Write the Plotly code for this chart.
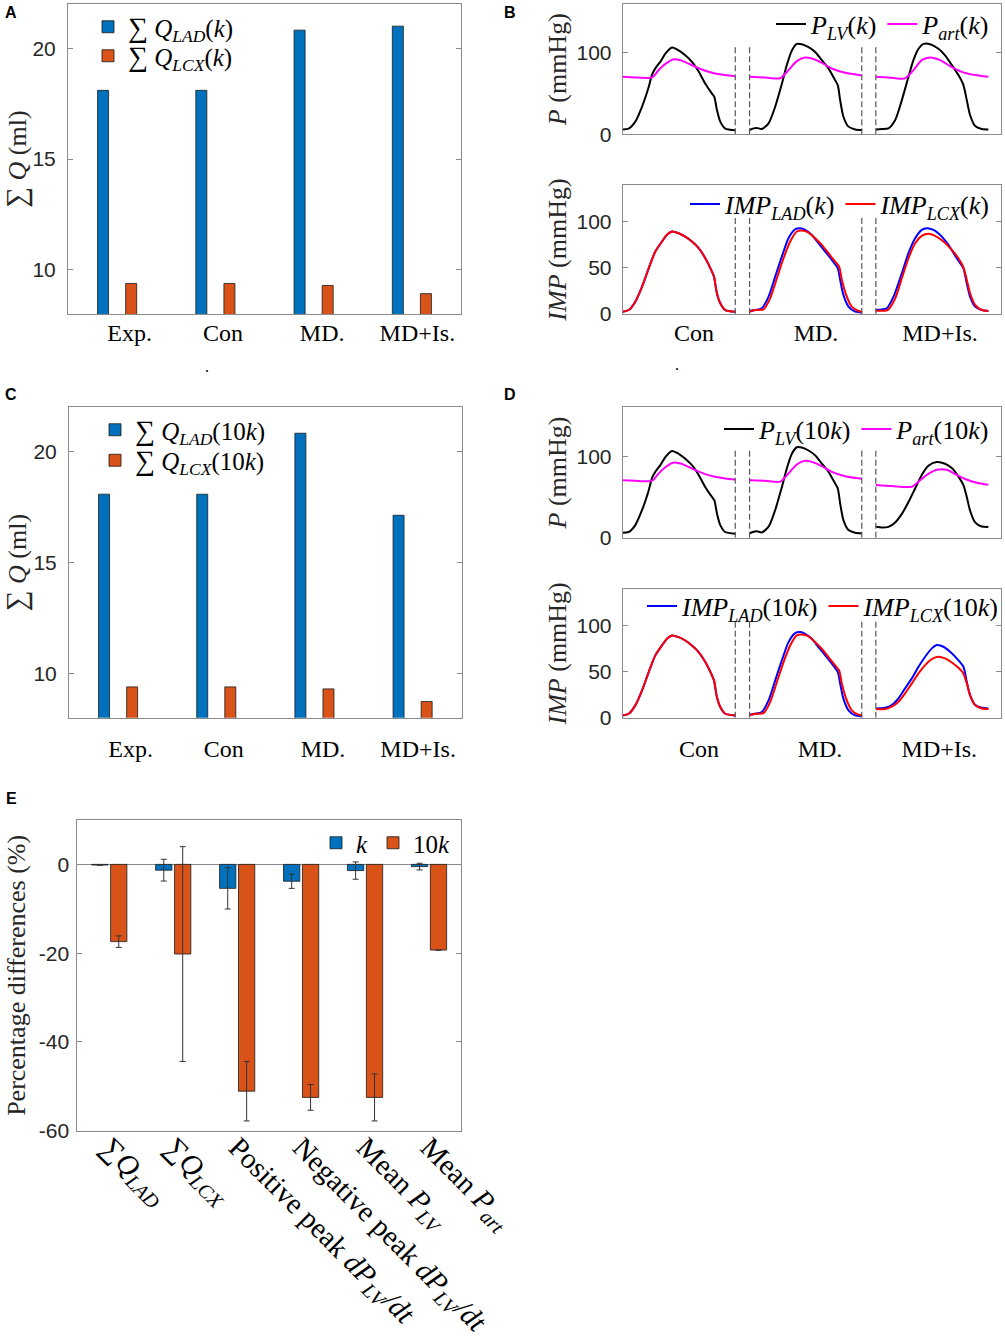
import plotly.graph_objects as go

W, H = 1005, 1339

# ---------------- DATA ----------------
groups = ["Exp.", "Con", "MD.", "MD+Is."]
group_pos = [1, 2, 3, 4]

# Panel A (k)
qlad_k = [18.1, 18.1, 20.82, 21.0]
qlcx_k = [9.38, 9.38, 9.29, 8.92]
# Panel C (10k)
qlad_10k = [18.08, 18.08, 20.83, 17.13]
qlcx_10k = [9.39, 9.39, 9.30, 8.73]

beats = ["Con", "MD.", "MD+Is."]

# Panel B / D pressure waveforms (t = fraction of beat, value in mmHg)
t_plv_con = [0, .053, .112, .172, .231, .260, .290, .334, .379, .438, .497, .556, .615, .675, .734, .793, .814, .837, .867, .911, 1.0]
plv_con = [6, 7, 15.5, 34, 58, 73, 81, 89, 99, 106.5, 103, 97, 89, 77, 62, 50, 46, 30, 15.5, 7, 5]
t_part_con = [0, .112, .231, .266, .320, .379, .453, .512, .571, .645, .734, .822, .911, 1.0]
part_con = [70.6, 69.8, 69.2, 70.2, 79, 86.5, 92.2, 91, 87.8, 82.9, 78, 74.7, 72.7, 71.4]

t_plv_md = [0, .036, .065, .109, .169, .228, .287, .331, .376, .420, .464, .524, .583, .642, .701, .760, .784, .805, .834, .879, .938, 1.0]
plv_md = [5.3, 7.3, 7.8, 6.5, 13.5, 34, 62, 85, 103, 111, 110.6, 107, 101, 91, 81, 66.5, 60.4, 42, 21.6, 9.4, 6, 5.3]
t_part_md = [0, .139, .272, .346, .420, .494, .553, .642, .731, .849, 1.0]
part_md = [70.6, 69.8, 68.8, 78.8, 89.8, 94.3, 93, 87.8, 80.8, 75.5, 72.2]

t_plv_mdis_k = [0, .053, .112, .172, .231, .290, .334, .379, .423, .482, .556, .615, .675, .734, .778, .808, .837, .882, .941, 1.0]
plv_mdis_k = [6, 6.5, 7.3, 17.6, 42, 70.6, 91, 105, 111, 110.6, 105, 97, 85, 72.7, 60.4, 42, 23.7, 10.2, 6.5, 6]
t_part_mdis_k = [0, .142, .260, .334, .408, .482, .571, .660, .763, .882, 1.0]
part_mdis_k = [70.6, 69.4, 68.6, 78.8, 91, 94.3, 91, 83.7, 76.7, 72.7, 70.6]

t_plv_mdis_10k = [0, .053, .112, .172, .231, .290, .349, .408, .467, .541, .615, .675, .734, .778, .808, .837, .882, .941, 1.0]
plv_mdis_10k = [13.3, 12.5, 13.3, 18.75, 29.2, 43.75, 60.4, 77, 88.3, 92.9, 90.8, 85.4, 75, 64.6, 50, 33.3, 18.75, 13.75, 13.3]
t_part_mdis_10k = [0, .142, .320, .379, .453, .541, .630, .704, .793, .896, 1.0]
part_mdis_10k = [64.6, 63.3, 62.5, 68.75, 77, 83.3, 83.3, 78, 72, 67.5, 65]

# Intramyocardial pressure
t_imp_con = [0, .053, .112, .172, .231, .290, .349, .393, .438, .497, .556, .615, .675, .734, .793, .811, .837, .867, .911, 1.0]
imp_con = [2.5, 4.3, 13.4, 29.7, 49.6, 67.8, 78.6, 85.9, 89.5, 87.7, 84, 78.6, 71.4, 60.5, 46, 40.6, 22.5, 11.6, 4.3, 2.5]

t_implad_md = [0, .050, .109, .169, .228, .287, .346, .405, .450, .494, .553, .612, .672, .731, .784, .805, .834, .879, .938, 1.0]
implad_md = [3.3, 4.3, 6.2, 18.8, 40.6, 62.3, 82.2, 92, 93.1, 91.3, 85.9, 76.8, 67.8, 58.7, 49.6, 37, 20.7, 8, 2.5, 1.4]
t_implcx_md = [0, .050, .124, .183, .243, .302, .361, .420, .464, .524, .583, .642, .701, .760, .796, .820, .864, .908, .967, 1.0]
implcx_md = [2.5, 4.3, 5, 17, 38.8, 60.5, 78.6, 89.5, 90.6, 88.4, 82.2, 75, 66, 56.9, 51.4, 37, 18.8, 8, 3.3, 2.5]

t_implad_mdis_k = [0, .053, .098, .157, .231, .290, .349, .408, .453, .512, .586, .645, .719, .778, .808, .837, .882, .941, 1.0]
implad_mdis_k = [4.3, 5, 6.2, 18.8, 44.2, 66, 82.2, 91.3, 93.1, 91.3, 84, 75, 60.5, 49.6, 33.3, 18.8, 8, 4.3, 3.3]
t_implcx_mdis_k = [0, .083, .112, .172, .231, .290, .349, .408, .467, .527, .601, .675, .734, .778, .808, .837, .882, .941, 1.0]
implcx_mdis_k = [3.6, 3.6, 5, 17, 38.8, 60.5, 76.8, 84.8, 87, 84.8, 78.6, 69.6, 60.5, 50.7, 37, 22.5, 9.8, 4.3, 3.3]

t_implad_mdis_10k = [0, .083, .142, .201, .260, .320, .379, .438, .497, .541, .601, .660, .719, .778, .808, .837, .882, .941, 1.0]
implad_mdis_10k = [10.1, 10.9, 13.8, 21, 31.9, 42.8, 55.4, 66.3, 75.4, 79, 77.2, 71.7, 64.5, 55.4, 39, 24.6, 13.8, 10.9, 10.1]
t_implcx_mdis_10k = [0, .083, .142, .201, .260, .320, .379, .438, .497, .556, .615, .675, .734, .778, .808, .837, .882, .941, 1.0]
implcx_mdis_10k = [9.4, 9.4, 12, 17.4, 26.4, 37.3, 48.2, 57.2, 63.8, 66.3, 64.5, 60.1, 54.3, 48.2, 37.3, 24.6, 13.8, 10.1, 9.4]

# Panel E
e_labels = ["∑<i>Q</i><sub><i>LAD</i></sub>", "∑<i>Q</i><sub><i>LCX</i></sub>",
            "Positive peak <i>dP</i><sub><i>LV</i></sub><i>/dt</i>",
            "Negative peak <i>dP</i><sub><i>LV</i></sub><i>/dt</i>",
            "Mean <i>P</i><sub><i>LV</i></sub>", "Mean <i>P</i><sub><i>art</i></sub>"]
e_k = [-0.15, -1.3, -5.4, -3.8, -1.4, -0.5]
e_k_err = [0, 2.45, 4.65, 1.6, 1.95, 0.75]
e_10k = [-17.4, -20.2, -51.1, -52.5, -52.5, -19.3]
e_10k_err = [1.3, 24.2, 6.7, 2.9, 5.3, 0]

# ---------------- STYLE ----------------
BLUE = "#0072BD"
ORANGE = "#D95319"
AXC = "#8a8a8a"
TXT = "#262626"
SERIF = "Liberation Serif"
SANS = "Liberation Sans"
BEAT_OFFSETS = [0, 1.127, 2.249]
GAP_LINES = [1.0, 1.127, 2.124, 2.249]
SUM_T = '<span style="font-size:29px">∑</span>'
SUM_L = '<span style="font-size:28px">∑</span>'


def dxd(a, b):
    return [a / W, b / W]


def dyd(top, bottom):
    return [1 - bottom / H, 1 - top / H]


def join(parts):
    xs, ys = [], []
    for i, (t, v) in enumerate(parts):
        if i:
            xs.append(None)
            ys.append(None)
        xs += [BEAT_OFFSETS[i] + ti for ti in t]
        ys += list(v)
    return xs, ys


fig = go.Figure()

# ---- Panel A and C bars ----
for xa, ya, leg1, leg2, lad, lcx, suf in [("x", "y", "legend", "legend8", qlad_k, qlcx_k, "(<i>k</i>)"),
                                           ("x4", "y4", "legend4", "legend9", qlad_10k, qlcx_10k, "(10<i>k</i>)")]:
    fig.add_trace(go.Bar(x=group_pos, y=lad, base=0, width=0.112, offset=-0.199, showlegend=True,
                         marker=dict(color=BLUE, line=dict(color="#1a1a1a", width=0.8)),
                         name=SUM_L + " <i>Q</i><sub><i>LAD</i></sub>" + suf, xaxis=xa, yaxis=ya, legend=leg1))
    fig.add_trace(go.Bar(x=group_pos, y=lcx, base=0, width=0.112, offset=0.087, showlegend=True,
                         marker=dict(color=ORANGE, line=dict(color="#1a1a1a", width=0.8)),
                         name=SUM_L + " <i>Q</i><sub><i>LCX</i></sub>" + suf, xaxis=xa, yaxis=ya, legend=leg2))

# ---- Panel B / D lines ----
def add_line(parts, color, name, xa, ya, leg):
    xs, ys = join(parts)
    fig.add_trace(go.Scatter(x=xs, y=ys, mode="lines", line=dict(color=color, width=2, shape="spline", smoothing=0.7),
                             connectgaps=False, name=name, xaxis=xa, yaxis=ya, legend=leg, showlegend=True))

add_line([(t_plv_con, plv_con), (t_plv_md, plv_md), (t_plv_mdis_k, plv_mdis_k)], "black",
         "<i>P</i><sub><i>LV</i></sub>(<i>k</i>)", "x2", "y2", "legend2")
add_line([(t_part_con, part_con), (t_part_md, part_md), (t_part_mdis_k, part_mdis_k)], "#FF00FF",
         "<i>P</i><sub><i>art</i></sub>(<i>k</i>)", "x2", "y2", "legend2")
add_line([(t_imp_con, imp_con), (t_implad_md, implad_md), (t_implad_mdis_k, implad_mdis_k)], "#0000FF",
         "<i>IMP</i><sub><i>LAD</i></sub>(<i>k</i>)", "x3", "y3", "legend3")
add_line([(t_imp_con, imp_con), (t_implcx_md, implcx_md), (t_implcx_mdis_k, implcx_mdis_k)], "#FF0000",
         "<i>IMP</i><sub><i>LCX</i></sub>(<i>k</i>)", "x3", "y3", "legend3")

add_line([(t_plv_con, plv_con), (t_plv_md, plv_md), (t_plv_mdis_10k, plv_mdis_10k)], "black",
         "<i>P</i><sub><i>LV</i></sub>(10<i>k</i>)", "x5", "y5", "legend5")
add_line([(t_part_con, part_con), (t_part_md, part_md), (t_part_mdis_10k, part_mdis_10k)], "#FF00FF",
         "<i>P</i><sub><i>art</i></sub>(10<i>k</i>)", "x5", "y5", "legend5")
add_line([(t_imp_con, imp_con), (t_implad_md, implad_md), (t_implad_mdis_10k, implad_mdis_10k)], "#0000FF",
         "<i>IMP</i><sub><i>LAD</i></sub>(10<i>k</i>)", "x6", "y6", "legend6")
add_line([(t_imp_con, imp_con), (t_implcx_md, implcx_md), (t_implcx_mdis_10k, implcx_mdis_10k)], "#FF0000",
         "<i>IMP</i><sub><i>LCX</i></sub>(10<i>k</i>)", "x6", "y6", "legend6")

# ---- Panel E ----
e_pos = list(range(1, len(e_labels) + 1))
fig.add_trace(go.Bar(x=e_pos, y=e_k, name="<i>k</i>", xaxis="x7", yaxis="y7", legend="legend7", showlegend=True,
                     marker=dict(color=BLUE, line=dict(color="#1a1a1a", width=0.8)),
                     error_y=dict(type="data", array=e_k_err, color="#333333", thickness=1, width=3)))
fig.add_trace(go.Bar(x=e_pos, y=e_10k, name="10<i>k</i>", xaxis="x7", yaxis="y7", legend="legend7", showlegend=True,
                     marker=dict(color=ORANGE, line=dict(color="#1a1a1a", width=0.8)),
                     error_y=dict(type="data", array=e_10k_err, color="#333333", thickness=1, width=3)))

# ---------------- LAYOUT ----------------
base_axis = dict(showline=True, linecolor=AXC, linewidth=1, mirror=True, showgrid=False, zeroline=False,
                 automargin=False, tickfont=dict(family=SANS, size=21, color=TXT))
yax = dict(base_axis, ticks="inside", ticklen=5, tickcolor=AXC, mirror="ticks")
xcat = dict(base_axis, ticks="", tickfont=dict(family=SERIF, size=24, color="black"))
ttl = dict(family=SERIF, size=26, color=TXT)

cat_ticks = [1.128, 2.077, 3.087, 4.056]
beat_ticks_b = [0.633, 1.717, 2.819]
beat_ticks_d = [0.678, 1.753, 2.813]
xr_beat = [0, 3.361]

lay = dict(
    width=W, height=H, margin=dict(l=0, r=0, t=0, b=0, autoexpand=False),
    paper_bgcolor="white", plot_bgcolor="white", showlegend=True,
    barmode="group", bargap=0.408, bargroupgap=0.14,
    xaxis=dict(xcat, domain=dxd(68, 461), range=[0.5, 4.5], tickvals=cat_ticks, ticktext=groups,
               anchor="y", ticklabelstandoff=-3),
    yaxis=dict(yax, domain=dyd(4, 314), range=[8, 22], tickvals=[10, 15, 20], anchor="x",
               ticklabelstandoff=7,
               title=dict(text=SUM_T + " <i>Q</i> (ml)", font=ttl, standoff=21)),
    xaxis2=dict(xcat, domain=dxd(622.7, 1001), range=xr_beat, showticklabels=False, anchor="y2"),
    yaxis2=dict(yax, domain=dyd(4, 134.3), range=[0, 160], tickvals=[0, 100], anchor="x2",
                ticklabelstandoff=6,
                title=dict(text="<i>P</i> (mmHg)", font=ttl, standoff=2)),
    xaxis3=dict(xcat, domain=dxd(622.7, 1001), range=xr_beat, tickvals=beat_ticks_b, ticktext=beats,
                anchor="y3", ticklabelstandoff=-3),
    yaxis3=dict(yax, domain=dyd(185, 314), range=[0, 140], tickvals=[0, 50, 100], anchor="x3",
                ticklabelstandoff=6,
                title=dict(text="<i>IMP</i> (mmHg)", font=ttl, standoff=2)),
    xaxis4=dict(xcat, domain=dxd(69, 461.7), range=[0.5, 4.5], tickvals=cat_ticks, ticktext=groups,
                anchor="y4", ticklabelstandoff=9),
    yaxis4=dict(yax, domain=dyd(407.3, 717.7), range=[8, 22], tickvals=[10, 15, 20], anchor="x4",
                ticklabelstandoff=7,
                title=dict(text=SUM_T + " <i>Q</i> (ml)", font=ttl, standoff=21)),
    xaxis5=dict(xcat, domain=dxd(622.7, 1001), range=xr_beat, showticklabels=False, anchor="y5"),
    yaxis5=dict(yax, domain=dyd(407.3, 537.7), range=[0, 160], tickvals=[0, 100], anchor="x5",
                ticklabelstandoff=6,
                title=dict(text="<i>P</i> (mmHg)", font=ttl, standoff=2)),
    xaxis6=dict(xcat, domain=dxd(622.7, 1001), range=xr_beat, tickvals=beat_ticks_d, ticktext=beats,
                anchor="y6", ticklabelstandoff=9),
    yaxis6=dict(yax, domain=dyd(589, 717.7), range=[0, 140], tickvals=[0, 50, 100], anchor="x6",
                ticklabelstandoff=6,
                title=dict(text="<i>IMP</i> (mmHg)", font=ttl, standoff=2)),
    xaxis7=dict(xcat, domain=dxd(77.3, 461), range=[0.5, 6.5], tickvals=e_pos, ticktext=e_labels,
                tickangle=45, anchor="y7", ticklabelstandoff=-13,
                tickfont=dict(family=SERIF, size=29, color="black")),
    yaxis7=dict(yax, domain=dyd(820, 1130.7), range=[-60, 10], tickvals=[0, -20, -40, -60],
                ticktext=["0", "-20", "-40", "-60"], anchor="x7", zeroline=True, zerolinecolor=AXC,
                zerolinewidth=1, ticklabelstandoff=3,
                title=dict(text="Percentage differences (%)", font=ttl, standoff=5)),
)

legbase = dict(font=dict(family=SERIF, size=26, color="black"), bgcolor="rgba(0,0,0,0)",
               borderwidth=0, tracegroupgap=0, visible=True)
barleg = dict(legbase, xanchor="left", yanchor="middle", font=dict(family=SERIF, size=25, color="black"))
lay["legend"] = dict(barleg, x=88 / W, y=1 - 27 / H)
lay["legend8"] = dict(barleg, x=88 / W, y=1 - 56 / H)
lay["legend4"] = dict(barleg, x=95 / W, y=1 - 430 / H)
lay["legend9"] = dict(barleg, x=95 / W, y=1 - 460.5 / H)
lay["legend2"] = dict(legbase, orientation="h", x=995 / W, xanchor="right", y=1 - 24 / H, yanchor="middle")
lay["legend3"] = dict(legbase, orientation="h", x=995 / W, xanchor="right", y=1 - 204 / H, yanchor="middle")
lay["legend5"] = dict(legbase, orientation="h", x=995 / W, xanchor="right", y=1 - 429 / H, yanchor="middle")
lay["legend6"] = dict(legbase, orientation="h", x=1004 / W, xanchor="right", y=1 - 606 / H, yanchor="middle")
lay["legend7"] = dict(legbase, orientation="h", x=455 / W, xanchor="right", y=1 - 843 / H, yanchor="middle",
                      font=dict(family=SERIF, size=25, color="black"))

fig.update_layout(**lay)

# dashed separators between beats
shapes = []
for xa, ya, top in [("x2", "y2", 110), ("x3", "y3", 105), ("x5", "y5", 110), ("x6", "y6", 105)]:
    for gx in GAP_LINES:
        shapes.append(dict(type="line", xref=xa, yref=ya, x0=gx, x1=gx, y0=0, y1=top,
                           line=dict(color="#555555", width=1.2, dash="6px,3px")))
fig.update_layout(shapes=shapes)

# panel letters and stray dots
ann = []
for letter, px, py in [("A", 11, 13), ("B", 510, 13), ("C", 11, 395), ("D", 510, 395), ("E", 11, 799)]:
    ann.append(dict(text="<b>" + letter + "</b>", x=px / W, y=1 - py / H, xref="paper", yref="paper",
                    showarrow=False, xanchor="center", yanchor="middle",
                    font=dict(family=SANS, size=16, color="black")))
for px, py in [(207, 366), (677, 364)]:
    ann.append(dict(text=".", x=px / W, y=1 - py / H, xref="paper", yref="paper", showarrow=False,
                    xanchor="center", yanchor="middle", font=dict(family=SERIF, size=16, color="black")))
fig.update_layout(annotations=ann)

fig.write_html("out.html", config={"displayModeBar": False},
               post_script="document.body.style.margin='0';document.body.style.overflow='hidden';")
